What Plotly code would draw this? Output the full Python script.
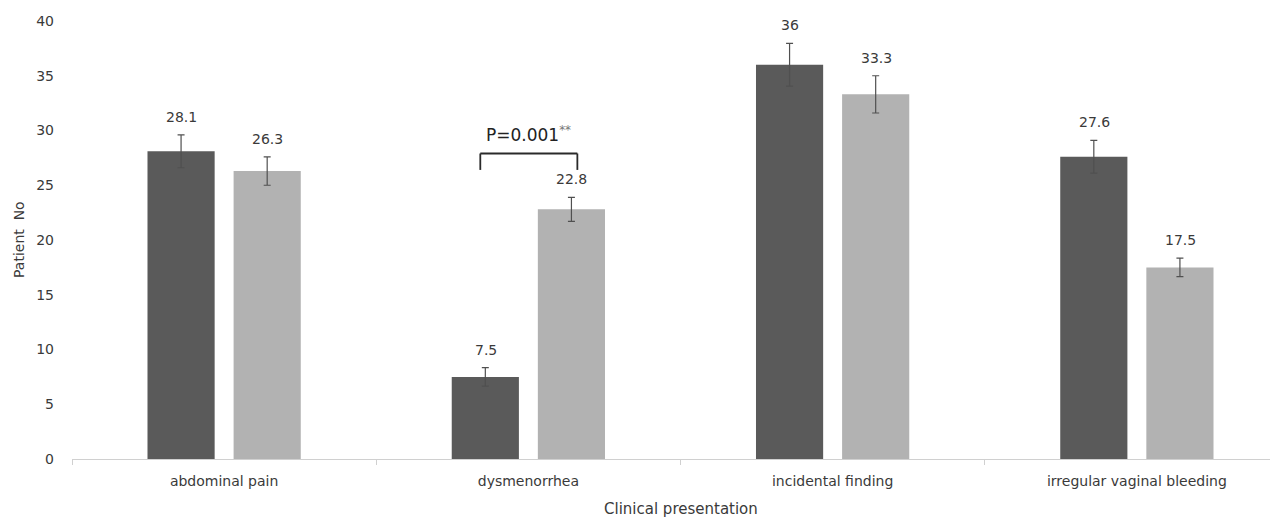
import plotly.graph_objects as go

categories = ["abdominal pain", "dysmenorrhea", "incidental finding", "irregular vaginal bleeding"]
series_a = [28.1, 7.5, 36, 27.6]
series_b = [26.3, 22.8, 33.3, 17.5]
err_a = [1.5, 0.85, 1.95, 1.5]
err_b = [1.3, 1.1, 1.7, 0.85]
y_ticks = [0, 5, 10, 15, 20, 25, 30, 35, 40]
p_label = "P=0.001<sup><span style='color:#777777'>**</span></sup>"
p_category = 1

FONT = "DejaVu Sans"
TXT = "#3a3a3a"
# the page body has an 8px default margin, so the figure is offset by (8, 8)
W, H = 1270, 512
ML, MT, MB = 64, 13, 61
x_end = 3.5 - 11 / 304.3

fig = go.Figure()
fig.add_trace(go.Bar(
    x=categories, y=series_a, marker_color="#5a5a5a", marker_line_width=0,
    error_y=dict(type="data", array=err_a, color="#505050", thickness=1.2, width=3.5),
    name="A"))
fig.add_trace(go.Bar(
    x=categories, y=series_b, marker_color="#b2b2b2", marker_line_width=0,
    error_y=dict(type="data", array=err_b, color="#505050", thickness=1.2, width=3.5),
    name="B"))

annotations = []
for i, c in enumerate(categories):
    for off, v, e in ((-0.14, series_a[i], err_a[i]), (0.143, series_b[i], err_b[i])):
        annotations.append(dict(
            x=i + off, y=v + e, xref="x", yref="y", text=f"{v:g}", showarrow=False,
            yanchor="middle", yshift=18, font=dict(family=FONT, size=14, color=TXT)))

annotations.append(dict(x=p_category, y=series_b[p_category] + err_b[p_category], xref="x", yref="y",
                        text=p_label, showarrow=False, yanchor="middle", yshift=63,
                        font=dict(family=FONT, size=17, color="#222222")))
annotations.append(dict(x=1.5, y=0, xref="x", yref="paper", text="Clinical presentation",
                        showarrow=False, yanchor="middle", yshift=-50,
                        font=dict(family=FONT, size=15, color=TXT)))
annotations.append(dict(x=0, y=0.5, xref="paper", yref="paper", text="Patient\u00a0 No",
                        showarrow=False, textangle=-90, xanchor="center", yanchor="middle", xshift=-53,
                        font=dict(family=FONT, size=14, color=TXT)))

bx0, bx1 = p_category - 0.158, p_category + 0.161
by_top = series_b[p_category] + err_b[p_category] + 4.0
by_bot = by_top - 1.5
for (xa, xb, ya, yb) in ((bx0, bx1, by_top, by_top), (bx0, bx0, by_top, by_bot), (bx1, bx1, by_top, by_bot)):
    fig.add_shape(type="line", xref="x", yref="y", x0=xa, x1=xb, y0=ya, y1=yb,
                  line=dict(color="#2a2a2a", width=1.8))

fig.update_layout(
    width=W, height=H, margin=dict(l=ML, r=0, t=MT, b=MB, autoexpand=False),
    paper_bgcolor="white", plot_bgcolor="white", showlegend=False,
    barmode="group", bargap=0.434, bargroupgap=0.22,
    font=dict(family=FONT, color=TXT),
    annotations=annotations,
    xaxis=dict(range=[-0.5, x_end], showgrid=False, showline=True, linecolor="#d0d0d0", linewidth=1,
               ticks="outside", tickson="boundaries", ticklen=5, tickcolor="#d0d0d0",
               automargin=False, ticklabelstandoff=9,
               tickfont=dict(family=FONT, size=14, color=TXT)),
    yaxis=dict(range=[0, 40], tickvals=y_ticks, showgrid=False, showline=False, zeroline=False,
               ticks="", ticklabelstandoff=17, automargin=False,
               tickfont=dict(family=FONT, size=14, color=TXT)),
)

fig.write_html("out.html")
